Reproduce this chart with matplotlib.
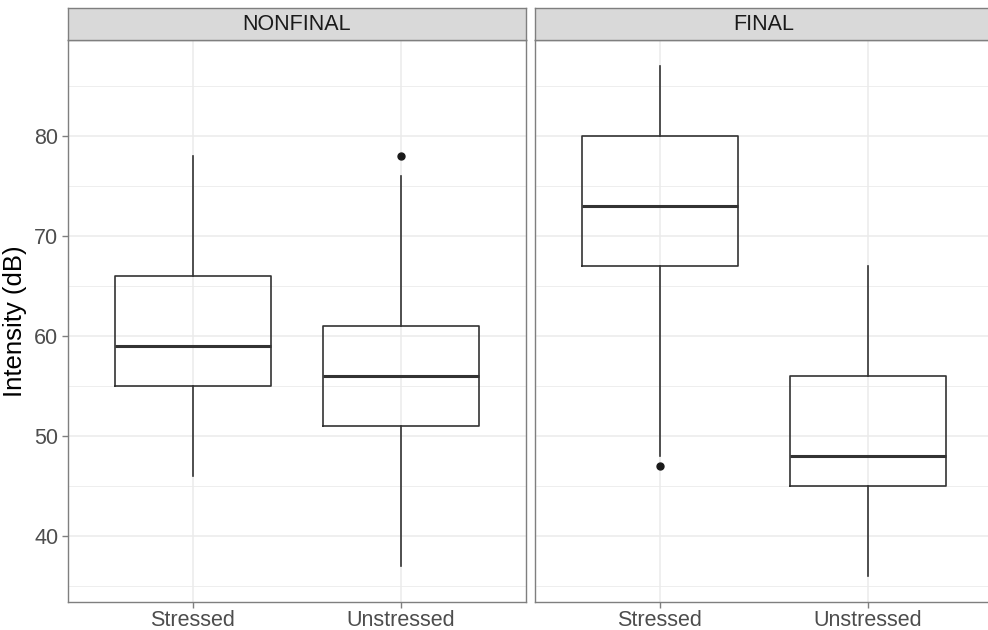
import matplotlib
matplotlib.use("Agg")
import matplotlib.pyplot as plt

plt.rcParams['font.family'] = ['Liberation Sans', 'DejaVu Sans']

panels = ["NONFINAL", "FINAL"]
categories = ["Stressed", "Unstressed"]
whislo = {"NONFINAL": [46, 37], "FINAL": [48, 36]}
q1 = {"NONFINAL": [55, 51], "FINAL": [67, 45]}
med = {"NONFINAL": [59, 56], "FINAL": [73, 48]}
q3 = {"NONFINAL": [66, 61], "FINAL": [80, 56]}
whishi = {"NONFINAL": [78, 76], "FINAL": [87, 67]}
fliers = {"NONFINAL": [[], [78]], "FINAL": [[47], []]}
yticks = [40, 50, 60, 70, 80]
yminor = [35, 45, 55, 65, 75, 85]

W, H = 988, 630
fig = plt.figure(figsize=(W / 100, H / 100), dpi=100)

lefts = [68, 535]
pw = 458
top, bottom = 40, 602
strip_top = 8

line_c = "#333333"
for i, p in enumerate(panels):
    ax = fig.add_axes([lefts[i] / W, 1 - bottom / H, pw / W, (bottom - top) / H])
    stats = []
    for j, c in enumerate(categories):
        stats.append(dict(whislo=whislo[p][j], q1=q1[p][j], med=med[p][j],
                          q3=q3[p][j], whishi=whishi[p][j], fliers=fliers[p][j]))
    ax.bxp(stats, positions=[1, 2], widths=0.75, showcaps=False,
           boxprops=dict(color=line_c, linewidth=1.2),
           whiskerprops=dict(color=line_c, linewidth=1.2),
           medianprops=dict(color=line_c, linewidth=2.2),
           flierprops=dict(marker='o', markerfacecolor='#1a1a1a', markeredgecolor='#1a1a1a',
                           markersize=5),
           zorder=3)
    ax.set_xlim(0.4, 2.6)
    ax.set_ylim(33.45, 89.55)
    ax.set_xticks([1, 2])
    ax.set_xticklabels(categories)
    ax.set_yticks(yticks)
    ax.set_yticks(yminor, minor=True)
    ax.grid(True, which='major', color='#ebebeb', linewidth=1.1, zorder=0)
    ax.grid(True, which='minor', color='#ebebeb', linewidth=0.6, zorder=0)
    ax.set_axisbelow(True)
    for s in ax.spines.values():
        s.set_color('#7f7f7f')
        s.set_linewidth(1.0)
    ax.tick_params(axis='both', which='major', colors='#7f7f7f', length=4, width=1,
                   labelcolor='#4d4d4d', labelsize=15.5)
    ax.tick_params(axis='x', pad=2)
    ax.tick_params(axis='y', pad=3)
    ax.tick_params(which='minor', length=0)
    if i == 0:
        ax.set_ylabel("Intensity (dB)", fontsize=18.5, color='black', labelpad=5)
    else:
        ax.tick_params(axis='y', which='both', left=False, labelleft=False)
    # strip
    sax = fig.add_axes([lefts[i] / W, 1 - top / H, pw / W, (top - strip_top) / H])
    sax.set_xticks([])
    sax.set_yticks([])
    sax.set_facecolor('#d9d9d9')
    for s in sax.spines.values():
        s.set_color('#7f7f7f')
        s.set_linewidth(1.0)
    sax.text(0.5, 0.5, p, ha='center', va='center', fontsize=15.5, color='#1a1a1a',
             transform=sax.transAxes)

fig.savefig("out.png", dpi=100)
